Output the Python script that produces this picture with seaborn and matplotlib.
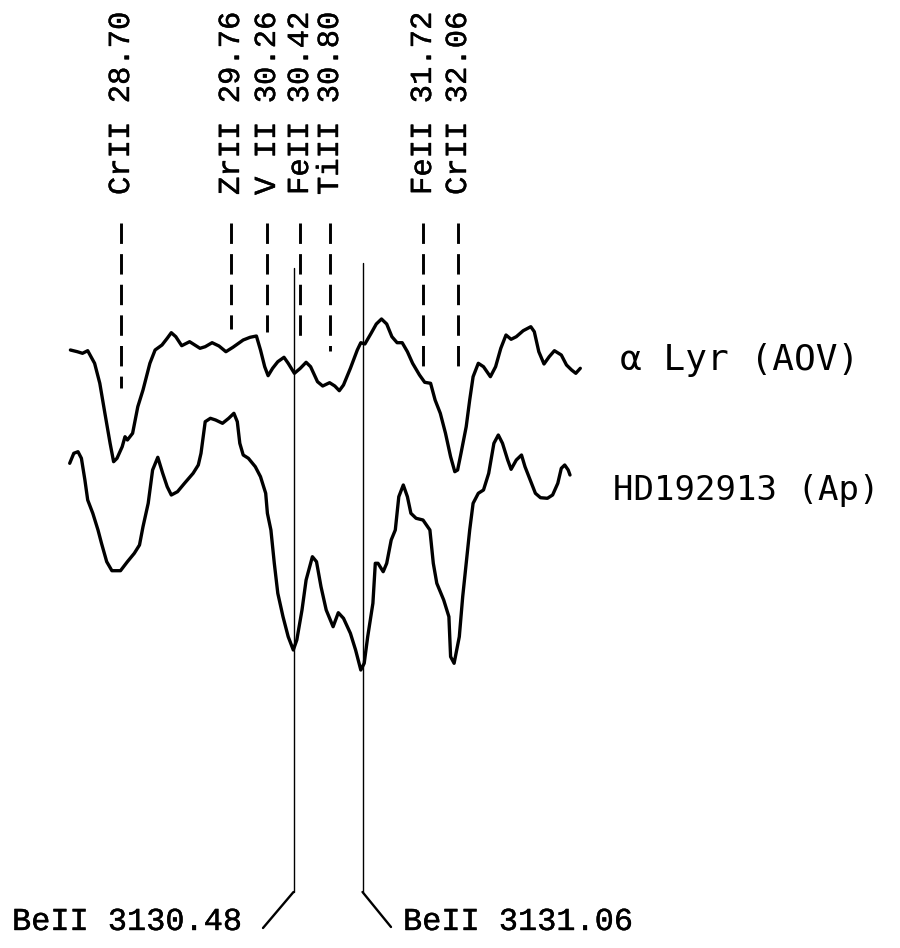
import matplotlib
matplotlib.use("Agg")
import matplotlib.pyplot as plt
import matplotlib.patheffects as pe
import seaborn as sns
import pandas as pd

sns.set_theme(style="white")

# ---- data (positions, in image-scan units) ----
alyr_x = [70.4, 77.3, 82.5, 87.7, 94.6, 99.8, 104.9, 110.1, 113.6, 117.0, 122.2, 125.0, 127.4,
          132.6, 137.8, 143.0, 149.9, 155.1, 162.0, 167.2, 171.3, 175.8, 181.7, 189.6, 194.8,
          200.0, 205.2, 212.1, 219.0, 225.9, 232.9, 243.2, 250.1, 256.4, 260.5, 264.7, 268.1,
          272.6, 277.8, 284.0, 288.2, 294.4, 300.3, 306.1, 310.6, 317.5, 322.7, 329.6, 334.8,
          339.3, 343.5, 350.4, 357.3, 360.8, 364.9, 371.1, 376.3, 381.5, 386.7, 391.9, 397.1,
          402.2, 407.4, 412.6, 419.5, 424.7, 430.6, 435.1, 440.3, 445.5, 450.6, 454.8, 457.6,
          461.0, 466.2, 469.7, 473.1, 478.3, 483.5, 490.4, 495.6, 500.8, 506.0, 511.1, 516.3,
          523.2, 530.8, 534.3, 538.8, 544.0, 549.2, 554.4, 561.3, 566.5, 571.6, 575.8, 580.3]
alyr_y = [350.0, 351.7, 353.3, 350.7, 363.3, 383.3, 413.3, 443.3, 461.7, 458.3, 446.7, 436.7, 440.0,
          433.3, 406.7, 390.0, 363.3, 350.0, 345.0, 338.3, 332.7, 336.7, 345.7, 341.7, 345.0,
          348.3, 346.7, 342.7, 346.0, 351.7, 347.3, 340.0, 337.3, 336.0, 350.0, 366.7, 375.7,
          368.3, 361.7, 357.3, 363.3, 373.3, 368.3, 362.3, 366.7, 381.7, 386.0, 382.7, 386.0,
          390.7, 385.0, 368.3, 350.0, 342.7, 344.0, 333.3, 324.0, 319.0, 324.0, 336.7, 342.7,
          342.7, 351.7, 363.3, 375.0, 382.3, 383.3, 400.0, 413.3, 433.3, 456.7, 471.7, 470.0,
          453.3, 426.7, 400.0, 376.7, 363.3, 366.7, 376.7, 366.7, 348.3, 335.0, 339.3, 336.7,
          330.7, 326.7, 331.7, 351.7, 364.0, 356.7, 350.7, 355.0, 365.0, 370.0, 373.3, 368.3]

hd_x = [69.7, 73.8, 78.0, 81.4, 84.9, 87.7, 92.8, 98.0, 101.5, 106.7, 111.9, 120.5, 127.4,
        134.3, 139.5, 143.0, 148.2, 152.6, 157.8, 162.7, 167.2, 171.3, 177.5, 184.5, 193.1,
        198.3, 201.0, 205.2, 210.4, 215.6, 222.5, 228.7, 233.9, 237.3, 239.8, 243.2, 248.4,
        255.3, 260.5, 265.7, 267.4, 270.9, 274.3, 277.8, 283.0, 288.2, 293.3, 296.8, 302.0,
        306.1, 312.4, 316.5, 321.0, 326.2, 333.1, 338.3, 343.5, 350.4, 355.6, 360.8, 364.2,
        367.7, 372.9, 375.3, 378.0, 383.2, 386.7, 391.2, 395.3, 398.8, 403.3, 407.4, 410.9,
        416.1, 423.0, 429.9, 433.3, 436.8, 443.7, 448.9, 450.6, 454.1, 459.3, 462.7, 466.2,
        469.7, 473.1, 478.3, 483.5, 488.7, 493.9, 498.3, 502.5, 507.7, 511.1, 516.3, 521.5,
        525.0, 530.2, 535.4, 540.5, 547.4, 552.6, 557.8, 561.3, 564.7, 568.2, 570.0]
hd_y = [463.3, 453.3, 451.7, 458.3, 480.0, 500.0, 513.3, 530.0, 543.3, 561.7, 570.7, 570.7, 561.7,
        553.3, 545.0, 526.7, 503.3, 470.0, 457.3, 473.3, 486.7, 495.0, 491.7, 483.3, 473.3,
        465.0, 453.3, 421.7, 418.3, 420.0, 423.3, 418.3, 413.3, 421.7, 443.3, 455.0, 458.3,
        466.7, 476.7, 493.3, 513.3, 530.0, 563.3, 593.3, 616.7, 636.7, 650.0, 640.0, 610.0,
        580.0, 556.7, 561.7, 586.7, 610.0, 626.7, 612.7, 618.3, 633.3, 650.0, 670.0, 663.3,
        636.7, 603.3, 563.3, 563.3, 571.7, 563.3, 540.0, 530.0, 496.7, 485.0, 496.7, 513.3,
        518.3, 520.0, 530.0, 563.3, 583.3, 600.0, 616.7, 656.7, 663.3, 636.7, 596.7, 563.3,
        530.0, 503.3, 493.3, 490.0, 473.3, 443.3, 435.0, 443.3, 460.0, 469.3, 460.0, 455.0,
        466.7, 480.0, 493.3, 497.7, 498.3, 495.0, 483.3, 468.3, 465.0, 470.0, 475.0]

# identified lines (dashed markers)
line_labels = ["CrII 28.70", "ZrII 29.76", "V II 30.26", "FeII 30.42",
               "TiII 30.80", "FeII 31.72", "CrII 32.06"]
line_pos = [121, 231, 267, 300, 330, 423, 458]
line_top = [223, 223, 223, 223, 223, 223, 223]
line_bottom = [388, 329, 332, 341, 351, 367, 369]

# Be II lines (solid markers)
be_labels = ["BeII 3130.48", "BeII 3131.06"]
be_pos = [293.5, 362.5]
be_top = [268, 263]
be_bottom = [892, 892]
be_foot_x = [263, 391]
be_foot_y = [928, 927]

star_labels = ["α Lyr (AOV)", "HD192913 (Ap)"]

# ---- figure ----
W, H = 900, 948
fig = plt.figure(figsize=(W / 100, H / 100), dpi=100)
ax = fig.add_axes([0, 0, 1, 1])

df_a = pd.DataFrame({"x": alyr_x, "y": alyr_y})
df_h = pd.DataFrame({"x": hd_x, "y": hd_y})
for df in (df_a, df_h):
    sns.lineplot(data=df, x="x", y="y", sort=False, estimator=None, color="black",
                 lw=2.4, ax=ax, legend=False, solid_joinstyle="round",
                 solid_capstyle="round")
ax.set_xlim(0, W)
ax.set_ylim(H, 0)
ax.axis("off")

ink = [pe.withStroke(linewidth=0.3, foreground="black")]
mono = ["Liberation Mono", "DejaVu Sans Mono"]
for lab, x, t, b in zip(line_labels, line_pos, line_top, line_bottom):
    ax.plot([x, x], [t, b], color="black", lw=2.1, linestyle=(0, (7, 3.5)),
            dash_capstyle="butt")
    ax.text(x, 195, lab, rotation=90, ha="center", va="bottom",
            family=mono, fontsize=22, color="black", path_effects=ink)

for i, (lab, x) in enumerate(zip(be_labels, be_pos)):
    ax.plot([x, x], [be_top[i], be_bottom[i]], color="black", lw=1.0)
    ax.plot([x, be_foot_x[i]], [be_bottom[i], be_foot_y[i]], color="black", lw=1.7)
    if i == 0:
        ax.text(be_foot_x[i] - 20, 930, lab, ha="right", va="baseline",
                family=mono, fontsize=23, color="black", path_effects=ink)
    else:
        ax.text(be_foot_x[i] + 12, 930, lab, ha="left", va="baseline",
                family=mono, fontsize=23, color="black", path_effects=ink)

ax.text(620, 370, star_labels[0], ha="left", va="baseline",
        family=["DejaVu Sans Mono"], fontsize=26, color="black")
ax.text(613, 500, star_labels[1], ha="left", va="baseline",
        family=["DejaVu Sans Mono"], fontsize=24.5, color="black")

fig.savefig("out.png", dpi=100, facecolor="white")
